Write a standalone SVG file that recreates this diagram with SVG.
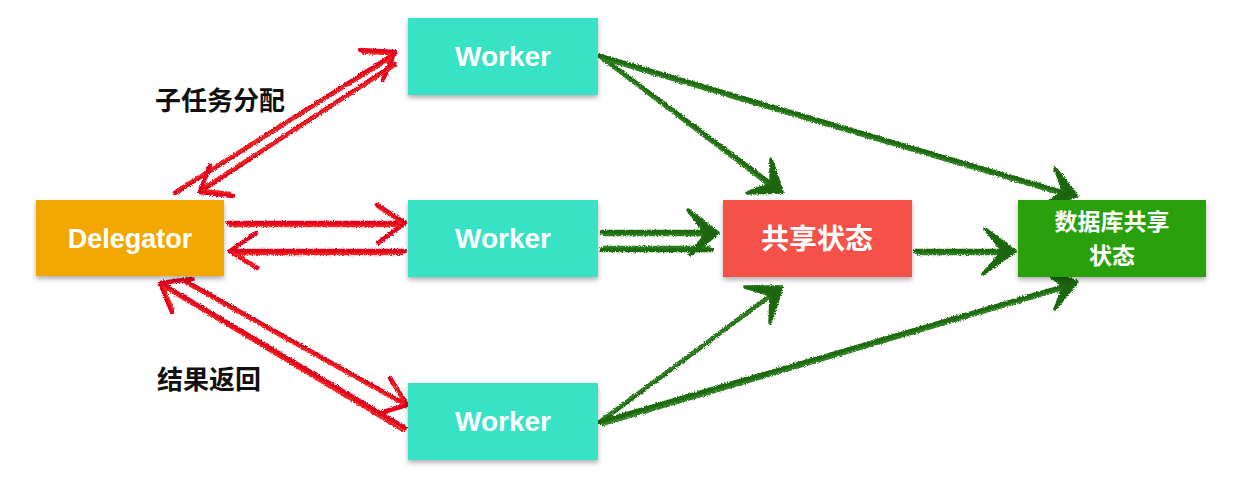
<svg xmlns="http://www.w3.org/2000/svg" width="1240" height="486" viewBox="0 0 1240 486">
<defs>
<filter id="shadow" x="-10%" y="-20%" width="120%" height="150%">
<feDropShadow dx="0" dy="3" stdDeviation="2.5" flood-color="#000" flood-opacity="0.3"/>
</filter>
<filter id="rough" x="-5%" y="-5%" width="110%" height="110%">
<feTurbulence type="fractalNoise" baseFrequency="0.9" numOctaves="2" seed="3" result="n"/>
<feDisplacementMap in="SourceGraphic" in2="n" scale="3.5" xChannelSelector="R" yChannelSelector="G"/>
</filter>
<style>
.node rect{filter:url(#shadow);}
.lbl{font-family:"Liberation Sans","Noto Sans CJK SC",Arial,sans-serif;font-weight:bold;fill:#fff;text-anchor:middle;}
.cap{font-family:"Liberation Sans","Noto Sans CJK SC",sans-serif;font-weight:bold;fill:#111;font-size:26px;}
.red path{fill:none;stroke:#E2001A;stroke-width:4.5;stroke-linecap:round;stroke-linejoin:round;}
.red path.t{stroke-width:2.5;stroke:#F02020;}
.green path{fill:none;stroke:#1F6A10;stroke-width:4.5;stroke-linecap:round;stroke-linejoin:round;}
.green path.t{stroke-width:2.5;stroke:#2F7F20;}
.green polygon{fill:#1C6410;stroke:#1F6A10;stroke-width:3.5;stroke-linejoin:round;}
</style>
</defs>
<rect width="1240" height="486" fill="#fff"/>

<g id="connectors" filter="url(#rough)">
<g class="red">
<path d="M175,193 L393,55 M360,50 L395,52 L383,80"/>
<path class="t" d="M177,190 L392,58 M362,53 L391,54"/>
<path d="M395,64 L202,190 M210,165 L200,192 L233,196"/>
<path class="t" d="M393,67 L204,187 M203,190 L230,193"/>
<path d="M228,223 L403,223 M377,205 L405,223 L378,243"/>
<path class="t" d="M230,226 L400,226 M379,208 L401,223"/>
<path d="M405,251 L232,251 M256,233 L230,251 L257,268"/>
<path class="t" d="M402,254 L234,254 M233,252 L254,266"/>
<path d="M185,281 L405,404 M390,378 L407,405 L380,413"/>
<path class="t" d="M187,284 L402,404 M392,381 L404,403"/>
<path d="M405,428 L162,284 M192,279 L160,283 L172,312"/>
<path class="t" d="M403,431 L165,288 M163,286 L173,309"/>
</g>
<g class="green">
<path d="M600,56 L778,189"/>
<path class="t" d="M602,59 L776,191"/>
<polygon points="782,192 747,193 771,184 771,159"/>
<path d="M600,56 L1072,195"/>
<path class="t" d="M602,59 L1070,197"/>
<polygon points="1077,196 1042,206 1064,192 1055,168"/>
<path d="M602,232 L712,232 M602,250 L712,250"/>
<path class="t" d="M604,235 L710,235 M604,247 L710,247"/>
<polygon points="718,233 688,210 706,234 690,255"/>
<path d="M915,251 L1010,251"/>
<path class="t" d="M917,254 L1008,254"/>
<polygon points="1015,251 985,229 1003,251 983,274"/>
<path d="M600,422 L778,290"/>
<path class="t" d="M602,419 L776,292"/>
<polygon points="782,287 745,287 771,295 770,323"/>
<path d="M600,422 L1072,284"/>
<path class="t" d="M602,425 L1070,287"/>
<polygon points="1077,282 1044,271 1064,286 1055,309"/>
</g>
</g>

<g id="delegator" class="node">
<rect x="36" y="200" width="188" height="76" fill="#F2A800"/>
<text class="lbl" x="130" y="248" font-size="27">Delegator</text>
</g>
<g id="worker1" class="node">
<rect x="408" y="18" width="190" height="77" fill="#38E2C4"/>
<text class="lbl" x="503" y="66" font-size="28">Worker</text>
</g>
<g id="worker2" class="node">
<rect x="408" y="200" width="190" height="77" fill="#38E2C4"/>
<text class="lbl" x="503" y="248" font-size="28">Worker</text>
</g>
<g id="worker3" class="node">
<rect x="408" y="383" width="190" height="77" fill="#38E2C4"/>
<text class="lbl" x="503" y="431" font-size="28">Worker</text>
</g>
<g id="shared" class="node">
<rect x="723" y="200" width="189" height="77" fill="#F5514A"/>
<text class="lbl" x="817" y="249" font-size="28">共享状态</text>
</g>
<g id="db" class="node">
<rect x="1018" y="200" width="188" height="77" fill="#2CA00E"/>
<text class="lbl" x="1112" y="230" font-size="23">数据库共享</text>
<text class="lbl" x="1112" y="264" font-size="23">状态</text>
</g>

<text class="cap" x="155" y="110">子任务分配</text>
<text class="cap" x="157" y="389">结果返回</text>
</svg>
